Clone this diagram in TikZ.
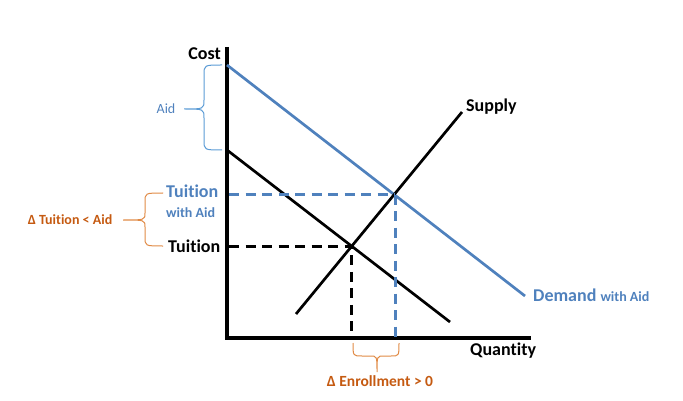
\documentclass[tikz,border=0pt]{standalone}
\usepackage{fontspec}
\setmainfont{Carlito}[Ligatures={NoCommon}]
\definecolor{ablue}{HTML}{4F81BD}
\definecolor{bblue}{HTML}{5B9BD5}
\definecolor{aorange}{HTML}{C55A11}
\definecolor{borange}{HTML}{E08A45}
\begin{document}
\begin{tikzpicture}[x=1pt,y=-1pt,
  big/.style={font=\fontsize{18}{20}\selectfont\bfseries, inner sep=0pt},
  small/.style={font=\fontsize{14}{16}\selectfont\bfseries, inner sep=0pt},
  axis/.style={line width=4pt},
  curve/.style={line width=2.7pt},
  dline/.style={line width=3pt, dash pattern=on 10pt off 6.5pt},
  brace/.style={line width=1pt}]
\useasboundingbox (0,0) rectangle (683,401);
% coordinates
\coordinate (ytop) at (227,47);
\coordinate (orig) at (227,338);
\coordinate (xend) at (531,338);
\coordinate (bd1) at (227,65);
\coordinate (bd2) at (525,296);
\coordinate (d1) at (227,150);
\coordinate (d2) at (450,322);
\coordinate (s1) at (296,314);
\coordinate (s2) at (462,112);
\coordinate (e0) at (intersection of d1--d2 and s1--s2);
\coordinate (e1) at (intersection of bd1--bd2 and s1--s2);
% axes
\draw[axis] (ytop) -- (orig) -- (xend);
% curves
\draw[curve, ablue] (bd1) -- (bd2);
\draw[curve] (d1) -- (d2);
\draw[curve] (s1) -- (s2);
% dashed guides
\coordinate (ty0) at (229,0 |- e0);
\coordinate (qx0) at (e0 |- orig);
\coordinate (ty1) at (229,0 |- e1);
\coordinate (e1b) at ([xshift=1.5pt]e1);
\coordinate (qx1) at (e1b |- orig);
\draw[dline] (ty0) -- (e0) -- (qx0);
\draw[dline, ablue] (ty1) -- (e1);
\draw[dline, ablue] (e1b) -- (qx1);
% labels
\node[big, anchor=east] (cost) at (221,54) {Cost};
\node[big, anchor=west] (qty) at (470,351) {Quantity};
\node[big, anchor=base west] (sup) at (466,112) {Supply};
\node[anchor=base west, inner sep=0pt, text=ablue] (dem) at (533,301)
  {\fontsize{18}{20}\selectfont\bfseries Demand \fontsize{14}{16}\selectfont with Aid};
\node[anchor=center, inner sep=0pt, text=ablue, font=\fontsize{14}{16}\selectfont] (aid) at (166,109) {Aid};
\node[big, anchor=west, text=ablue] (tua) at (166,191) {Tuition};
\node[small, anchor=west, text=ablue] (wa) at (166,213) {with Aid};
\node[big, anchor=west] (tu) at (168,246) {Tuition};
\node[small, anchor=center, text=aorange] (dt) at (70,220) {Δ Tuition < Aid};
\node[anchor=center, inner sep=0pt, text=aorange, font=\fontsize{15.5}{17}\selectfont\bfseries] (de) at (380,381) {Δ Enrollment > 0};
% braces
\draw[brace, bblue] (222,65) .. controls (204,65) .. (204,75) -- (204,100)
  .. controls (204,109) .. (184,109) .. controls (204,109) .. (204,118)
  -- (204,140) .. controls (204,150) .. (222,150);
\draw[brace, borange] (163,193) .. controls (145,193) .. (145,202) -- (145,213)
  .. controls (145,220) .. (123,220) .. controls (145,220) .. (145,227)
  -- (145,237) .. controls (145,246) .. (163,246);
\draw[brace, borange] (353,343) .. controls (353,356) .. (362,356) -- (370,356)
  .. controls (377,356) .. (377,372) .. controls (377,356) .. (384,356)
  -- (391,356) .. controls (399,356) .. (399,343);
\end{tikzpicture}
\end{document}
